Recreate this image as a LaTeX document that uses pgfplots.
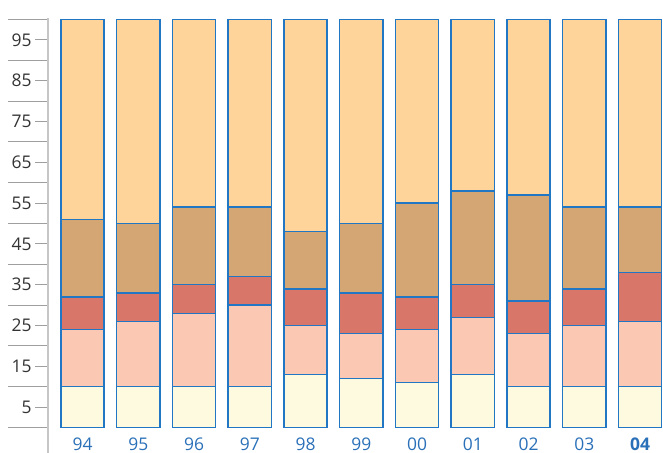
\documentclass[border=0pt]{standalone}
\usepackage{pgfplots}
\pgfplotsset{compat=1.18}
\usepackage{fontspec}
\setmainfont{Open Sans}
\definecolor{cA}{HTML}{FEFADF}
\definecolor{cB}{HTML}{FBC9B3}
\definecolor{cC}{HTML}{D8766A}
\definecolor{cD}{HTML}{D4A674}
\definecolor{cE}{HTML}{FED49B}
\definecolor{edge}{HTML}{2277C4}
\definecolor{lab}{HTML}{2A70B8}
\begin{document}
\begin{tikzpicture}
\begin{axis}[
  x=55.75bp, y=4.08bp,
  xmin=-0.6188, xmax=10.4125, ymin=0, ymax=100,
  clip=false,
  ybar stacked, bar width=43.3bp,
  axis x line*=bottom, axis y line*=left,
  x axis line style={draw=none}, y axis line style={draw=none},
  xtick={0,...,10},
  xticklabels={94,95,96,97,98,99,00,01,02,03,{\textbf{04}}},
  xtick style={draw=none},
  xticklabel style={font=\fontsize{17.5}{20}\selectfont, text=lab, yshift=6bp},
  ytick={5,15,...,95},
  tick align=outside,
  major tick length=13bp,
  ytick style={draw=gray!75, line width=1.1bp},
  yticklabel style={font=\fontsize{17.5}{20}\selectfont, text=black!80},
  /pgf/number format/assume math mode=true,
  extra y ticks={0,10,...,100},
  extra y tick labels={},
  extra y tick style={major tick length=40bp, tick style={draw=gray!45, line width=1.4bp}},
  bs/.style={draw=edge, line width=1.5bp, fill=#1},
]
\addplot[bs=cA] coordinates {(0,10) (1,10) (2,10) (3,10) (4,13) (5,12) (6,11) (7,13) (8,10) (9,10) (10,10)};
\addplot[bs=cB] coordinates {(0,14) (1,16) (2,18) (3,20) (4,12) (5,11) (6,13) (7,14) (8,13) (9,15) (10,16)};
\addplot[bs=cC] coordinates {(0,8) (1,7) (2,7) (3,7) (4,9) (5,10) (6,8) (7,8) (8,8) (9,9) (10,12)};
\addplot[bs=cD] coordinates {(0,19) (1,17) (2,19) (3,17) (4,14) (5,17) (6,23) (7,23) (8,26) (9,20) (10,16)};
\addplot[bs=cE] coordinates {(0,49) (1,50) (2,46) (3,46) (4,52) (5,50) (6,45) (7,42) (8,43) (9,46) (10,46)};
\draw[gray!45, line width=2bp] (axis cs:-0.6188,100.3) -- (axis cs:-0.6188,-7);
\coordinate (bl) at (axis cs:-1.4798,-6.25);
\coordinate (tr) at (axis cs:10.4125,104.78);
\end{axis}
\pgfresetboundingbox
\useasboundingbox (bl) rectangle (tr);
\end{tikzpicture}
\end{document}
